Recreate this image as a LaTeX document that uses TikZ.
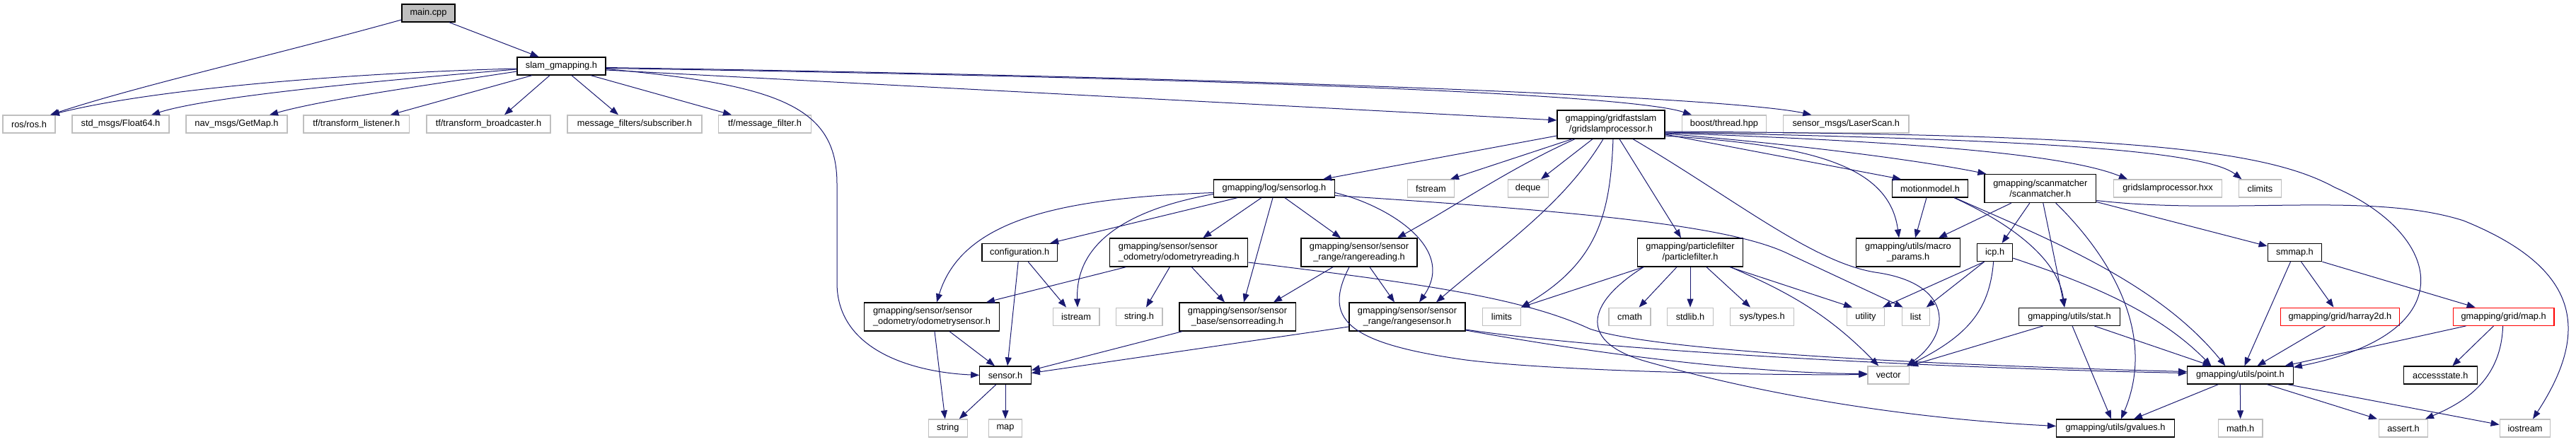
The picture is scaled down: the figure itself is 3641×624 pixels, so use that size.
\documentclass[tikz,border=0pt]{standalone}
\usepackage{fontspec}
\setmainfont{Liberation Sans}
\usetikzlibrary{arrows.meta}
\definecolor{edgec}{HTML}{191970}
\definecolor{grey75}{HTML}{BFBFBF}
\newcommand\mk[7]{\node[#1, minimum width=#5pt, minimum height=#6pt] (#2) at (#3,#4) {#7};}
\begin{document}
\begin{tikzpicture}[x=1pt,y=-1pt,
  every node/.style={font=\fontsize{12.8}{15}\selectfont, inner sep=0pt, align=center},
  doc/.style={draw=black, line width=1.3pt, fill=white},
  ext/.style={draw=grey75, line width=1.3pt, fill=white},
  trunc/.style={draw=red, line width=1.3pt, fill=white},
  dep/.style={draw=edgec, line width=1pt, -{Triangle[length=12pt,width=9pt]}, fill=none}]
\path[use as bounding box] (0,0) rectangle (3641,624);
% row 1-3
\mk{doc, fill=grey75}{main}{605.5}{18.5}{75}{25}{main.cpp}
\mk{doc}{slam}{793.5}{93.5}{125}{25}{slam\_gmapping.h}
\mk{ext}{ros}{41}{175.5}{74}{25}{ros/ros.h}
\mk{ext}{flt}{170.5}{175.5}{137}{25}{std\_msgs/Float64.h}
\mk{ext}{getmap}{334.5}{175.5}{143}{25}{nav\_msgs/GetMap.h}
\mk{ext}{tflis}{503.8}{175.5}{149.5}{25}{tf/transform\_listener.h}
\mk{ext}{tfbc}{690.5}{175.5}{175}{25}{tf/transform\_broadcaster.h}
\mk{ext}{subs}{897}{175.5}{190}{25}{message\_filters/subscriber.h}
\mk{ext}{msgf}{1081}{175.5}{131}{25}{tf/message\_filter.h}
\mk{doc}{gsp}{2277}{176}{152}{40}{gmapping/gridfastslam\\/gridslamprocessor.h}
\mk{ext}{boost}{2437}{175.5}{119}{25}{boost/thread.hpp}
\mk{ext}{laser}{2609.3}{175.5}{177.4}{25}{sensor\_msgs/LaserScan.h}
% row 4
\mk{doc}{slog}{1801}{266.5}{171}{25}{gmapping/log/sensorlog.h}
\mk{ext}{fstream}{2022.5}{266.5}{66}{25}{fstream}
\mk{ext}{deque}{2159.7}{266.5}{57}{25}{deque}
\mk{doc}{motion}{2728}{266.5}{106.6}{25}{motionmodel.h}
\mk{doc}{scanm}{2883.8}{266.5}{157.5}{40}{gmapping/scanmatcher\\/scanmatcher.h}
\mk{ext}{hxx}{3064}{266.5}{153}{25}{gridslamprocessor.hxx}
\mk{ext}{climits}{3194.4}{266.5}{60}{25}{climits}
% row 5
\mk{doc}{config}{1441.2}{357}{106.5}{25}{configuration.h}
\mk{doc, align=left}{odomread}{1666.3}{357}{195}{40}{gmapping/sensor/sensor\\\_odometry/odometryreading.h}
\mk{doc}{rangeread}{1921}{357}{164}{40}{gmapping/sensor/sensor\\\_range/rangereading.h}
\mk{doc}{pfilter}{2389}{357}{149.5}{40}{gmapping/particlefilter\\/particlefilter.h}
\mk{doc}{macro}{2697}{357}{146.7}{40}{gmapping/utils/macro\\\_params.h}
\mk{doc}{icp}{2819.6}{357}{50}{25}{icp.h}
\mk{doc}{smmap}{3243.5}{357}{76.5}{25}{smmap.h}
% row 6
\mk{doc, align=left}{odomsens}{1317}{448}{190.6}{40}{gmapping/sensor/sensor\\\_odometry/odometrysensor.h}
\mk{ext}{istream}{1521}{447.7}{65.7}{25}{istream}
\mk{ext}{stringh}{1610}{447.7}{65.7}{25}{string.h}
\mk{doc}{sensread}{1749}{448}{164.3}{40}{gmapping/sensor/sensor\\\_base/sensorreading.h}
\mk{doc}{rangesens}{1989}{448}{164}{40}{gmapping/sensor/sensor\\\_range/rangesensor.h}
\mk{ext}{limits}{2122.5}{447.7}{53.6}{25}{limits}
\mk{ext}{cmath}{2303.6}{447.7}{59}{25}{cmath}
\mk{ext}{stdlib}{2389}{447.7}{64.4}{25}{stdlib.h}
\mk{ext}{systypes}{2490.6}{447.7}{90}{25}{sys/types.h}
\mk{ext}{utility}{2637}{447.7}{53.3}{25}{utility}
\mk{ext}{list}{2707.7}{447.7}{39}{25}{list}
\mk{doc}{stat}{2925}{447.7}{142.8}{25}{gmapping/utils/stat.h}
\mk{trunc}{harray}{3307.4}{447.7}{168.4}{25}{gmapping/grid/harray2d.h}
\mk{trunc}{maph}{3538.6}{447.7}{142.6}{25}{gmapping/grid/map.h}
% row 7
\mk{doc}{sensor}{1421}{530.5}{72.4}{25}{sensor.h}
\mk{ext}{vector}{2669.2}{530.5}{58.4}{25}{vector}
\mk{doc}{point}{3166.4}{530.5}{149.6}{25}{gmapping/utils/point.h}
\mk{doc}{access}{3449.3}{530.5}{103.8}{25}{accessstate.h}
% row 8
\mk{ext}{string}{1339.8}{605.5}{55}{25}{string}
\mk{ext}{map}{1421}{605.5}{47}{25}{map}
\mk{doc}{gvalues}{2990}{605.5}{166.7}{25}{gmapping/utils/gvalues.h}
\mk{ext}{math}{3166.6}{605.5}{62.6}{25}{math.h}
\mk{ext}{assert}{3397}{605.5}{69}{25}{assert.h}
\mk{ext}{iostream}{3569}{605.5}{71.5}{25}{iostream}

% edges
\draw[dep] ([xshift=29.5]main.south) -- ([xshift=-32]slam.north);
\draw[dep] ([yshift=-9.5]main.west) .. controls (380,80) and (200,120) .. ([xshift=30]ros.north);
\draw[dep] ([yshift=-3.5]slam.west) .. controls (500,103) and (220,125) .. ([xshift=31]ros.north);
\draw[dep] ([yshift=-4.5]slam.west) .. controls (560,112) and (300,135) .. ([xshift=43.5]flt.north);
\draw[dep] ([yshift=-7.5]slam.west) .. controls (620,118) and (460,140) .. ([xshift=46.5]getmap.north);
\draw[dep] ([xshift=-41.5]slam.south) -- ([xshift=48]tflis.north);
\draw[dep] ([xshift=-16.5]slam.south) -- ([xshift=22.5]tfbc.north);
\draw[dep] ([xshift=14.5]slam.south) -- ([xshift=-23]subs.north);
\draw[dep] ([xshift=41.5]slam.south) -- ([xshift=-47]msgf.north);
\draw[dep] ([yshift=-4]slam.east) .. controls (1100,120) and (1183,150) .. (1183,260) -- (1183,400) .. controls (1183,500) and (1300,527) .. (sensor.west);
\draw[dep] ([yshift=-5.5]slam.east) -- ([yshift=6]gsp.west);
\draw[dep] ([yshift=-3]slam.east) .. controls (1700,110) and (2300,132) .. ([xshift=-46]boost.north);
\draw[dep] ([yshift=-2]slam.east) .. controls (1800,110) and (2450,138) .. ([xshift=-49]laser.north);
% gsp
\draw[dep] ([yshift=-16]gsp.west) -- ([xshift=69]slog.north);
\draw[dep] ([xshift=-55]gsp.south) -- ([xshift=27.5]fstream.north);
\draw[dep] ([xshift=-51]gsp.south) .. controls (2130,240) and (2060,290) .. ([xshift=54]rangeread.north);
\draw[dep] ([xshift=-26]gsp.south) -- ([xshift=18.3]deque.north);
\draw[dep] ([xshift=-11]gsp.south) .. controls (2210,290) and (2120,350) .. ([xshift=41]rangesens.north);
\draw[dep] ([xshift=3]gsp.south) .. controls (2276,300) and (2260,370) .. (limits.north east);
\draw[dep] ([xshift=12]gsp.south) -- ([xshift=-13]pfilter.north);
\draw[dep] ([xshift=31]gsp.south) .. controls (2450,280) and (2560,370) .. (2650,385) .. controls (2760,400) and (2760,470) .. ([xshift=26]vector.north);
\draw[dep] ([yshift=-16]gsp.east) .. controls (2550,205) and (2670,230) .. ([xshift=-13]macro.north);
\draw[dep] ([yshift=-14]gsp.east) -- ([xshift=-41]motion.north);
\draw[dep] ([yshift=-13]gsp.east) .. controls (2550,205) and (2720,228) .. ([xshift=3]scanm.north west);
\draw[dep] ([yshift=-12]gsp.east) .. controls (2700,200) and (2920,218) .. ([xshift=-57]hxx.north);
\draw[dep] ([yshift=-11]gsp.east) .. controls (2800,196) and (3110,208) .. ([xshift=-26]climits.north);
\draw[dep] ([yshift=-10]gsp.east) .. controls (3000,190) and (3200,210) .. (3300,265) .. controls (3450,330) and (3490,470) .. ([yshift=-2]point.north east);
% sensorlog
\draw[dep] ([yshift=-6]slog.west) .. controls (1500,280) and (1360,310) .. ([xshift=7]odomsens.north);
\draw[dep] ([yshift=-8]slog.west) .. controls (1600,295) and (1520,340) .. ([xshift=2]istream.north);
\draw[dep] ([xshift=-52]slog.south) -- ([xshift=43]config.north);
\draw[dep] ([xshift=-18]slog.south) -- ([xshift=34]odomread.north);
\draw[dep] ([xshift=-2]slog.south) -- ([xshift=9]sensread.north);
\draw[dep] ([xshift=15]slog.south) -- ([xshift=-26]rangeread.north);
\draw[dep] ([yshift=-6]slog.east) .. controls (1960,290) and (2060,350) .. ([xshift=17]rangesens.north);
\draw[dep] ([yshift=-10]slog.east) .. controls (2250,300) and (2450,320) .. (2530,360) -- ([xshift=-18]list.north);
% odometryreading
\draw[dep] ([xshift=-75]odomread.south) -- ([xshift=77]odomsens.north);
\draw[dep] ([xshift=-13]odomread.south) -- ([xshift=10]stringh.north);
\draw[dep] ([xshift=18]odomread.south) -- ([xshift=-18]sensread.north);
\draw[dep] ([yshift=-14]odomread.east) .. controls (2000,400) and (2150,420) .. (2247,465) .. controls (2350,500) and (2800,518) .. ([yshift=5]point.west);
% configuration, odometrysensor, sensor
\draw[dep] ([xshift=-2]config.south) -- ([xshift=3]sensor.north);
\draw[dep] ([xshift=12]config.south) -- ([xshift=-14]istream.north);
\draw[dep] ([xshift=4]odomsens.south) -- ([xshift=-4]string.north);
\draw[dep] ([xshift=25]odomsens.south) -- ([xshift=-15]sensor.north);
\draw[dep] ([xshift=-13]sensor.south) -- ([xshift=16]string.north);
\draw[dep] (sensor.south) -- (map.north);
\draw[dep] ([xshift=-78]sensread.south) -- ([yshift=7]sensor.east);
\draw[dep] ([yshift=-14]rangesens.west) -- ([yshift=3]sensor.east);
% rangereading, rangesensor
\draw[dep] ([xshift=-37]rangeread.south) -- ([xshift=51]sensread.north);
\draw[dep] ([xshift=15]rangeread.south) -- ([xshift=-18]rangesens.north);
\draw[dep] ([xshift=-14]rangeread.south) .. controls (1870,450) and (1900,485) .. (2072,509) .. controls (2200,525) and (2500,531) .. ([yshift=1]vector.west);
\draw[dep] ([yshift=-18]rangesens.east) .. controls (2300,500) and (2800,522) .. ([yshift=3]point.west);
\draw[dep] ([yshift=-19]rangesens.east) .. controls (2300,508) and (2500,528) .. ([yshift=2]vector.west);
% particlefilter
\draw[dep] ([xshift=-66]pfilter.south) -- (limits.north east);
\draw[dep] ([xshift=-19]pfilter.south) -- ([xshift=13]cmath.north);
\draw[dep] (pfilter.south) -- (stdlib.north);
\draw[dep] ([xshift=23]pfilter.south) -- ([xshift=-16.6]systypes.north);
\draw[dep] ([xshift=56]pfilter.south) -- ([xshift=-19]utility.north);
\draw[dep] ([xshift=57]pfilter.south) .. controls (2520,410) and (2580,440) .. ([xshift=-14]vector.north);
\draw[dep] ([xshift=-66]pfilter.south) .. controls (2240,430) and (2230,485) .. (2330,512) .. controls (2500,560) and (2700,592) .. ([yshift=3]gvalues.west);
% motionmodel, scanmatcher
\draw[dep] ([xshift=-5]motion.south) -- ([xshift=10]macro.north);
\draw[dep] ([xshift=34]motion.south) .. controls (2850,320) and (2910,370) .. ([xshift=-7]stat.north);
\draw[dep] ([xshift=35]motion.south) .. controls (2900,340) and (3050,400) .. ([xshift=-21]point.north);
\draw[dep] ([xshift=-41]scanm.south) -- ([xshift=43]macro.north);
\draw[dep] ([xshift=-15]scanm.south) -- ([xshift=10]icp.north);
\draw[dep] ([xshift=4]scanm.south) -- ([xshift=-7]stat.north);
\draw[dep] ([xshift=22]scanm.south) .. controls (2980,360) and (3050,470) .. ([xshift=8]gvalues.north);
\draw[dep] ([yshift=-19]scanm.east) -- ([yshift=9]smmap.west);
\draw[dep] ([yshift=-17]scanm.east) .. controls (3150,305) and (3350,270) .. (3482,312) .. controls (3650,380) and (3660,470) .. ([xshift=11]iostream.north);
% icp, stat
\draw[dep] ([xshift=-15]icp.south) -- ([xshift=24]utility.north);
\draw[dep] ([xshift=-15]icp.south) -- ([xshift=15]list.north);
\draw[dep] ([xshift=-2]icp.south) .. controls (2812,440) and (2780,475) .. ([xshift=-3]vector.north east);
\draw[dep] ([yshift=-8]icp.east) .. controls (2950,400) and (3050,440) .. ([xshift=-41]point.north);
\draw[dep] ([xshift=-37]stat.south) -- (vector.north east);
\draw[dep] ([xshift=4]stat.south) -- ([xshift=-6]gvalues.north);
\draw[dep] ([xshift=35]stat.south) -- ([xshift=-41]point.north);
% smmap, grid
\draw[dep] ([xshift=-6]smmap.south) -- ([xshift=6]point.north);
\draw[dep] ([xshift=9]smmap.south) -- ([xshift=-9]harray.north);
\draw[dep] (smmap.south east) -- ([xshift=-40]maph.north);
\draw[dep] ([xshift=-21]harray.south) -- ([xshift=24]point.north);
\draw[dep] ([xshift=-53]maph.south) -- ([xshift=63]point.north);
\draw[dep] ([xshift=-14]maph.south) -- ([xshift=17]access.north);
\draw[dep] ([xshift=-1]maph.south) .. controls (3535,540) and (3480,570) .. ([xshift=31]assert.north);
% point
\draw[dep] ([xshift=-31]point.south) -- ([xshift=26]gvalues.north);
\draw[dep] (point.south) -- (math.north);
\draw[dep] ([xshift=38]point.south) -- ([xshift=-37]assert.north);
\draw[dep] ([xshift=67]point.south) -- ([yshift=5]iostream.west);
\end{tikzpicture}
\end{document}
